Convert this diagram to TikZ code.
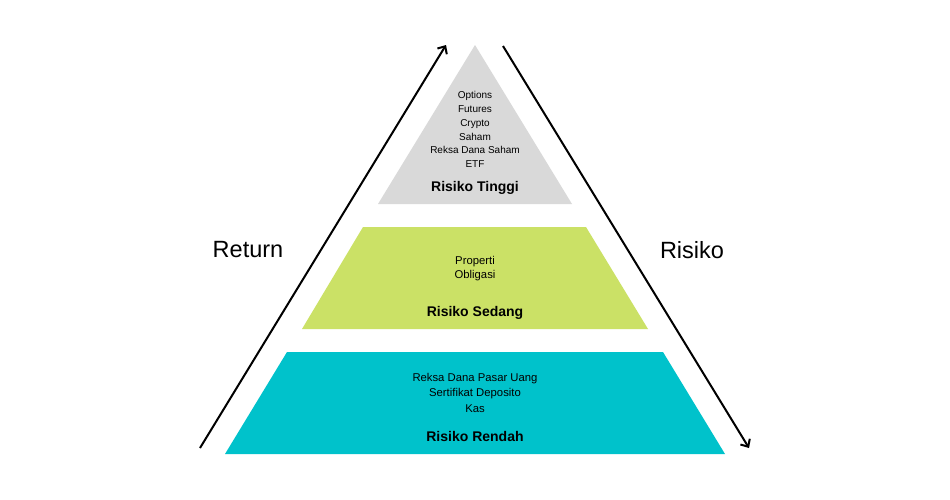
\documentclass[tikz,border=0pt]{standalone}
\usepackage{fontspec}
\setmainfont{Liberation Sans}
\usetikzlibrary{arrows.meta}
\definecolor{tgrey}{HTML}{D9D9D9}
\definecolor{tgreen}{HTML}{CBE166}
\definecolor{tteal}{HTML}{00C2CB}
\tikzset{
  layer/.style={draw=none},
  items/.style={align=center, inner sep=0pt},
  title/.style={inner sep=0pt, font=\bfseries\fontsize{14}{16}\selectfont},
  axis/.style={line width=2pt, -{Straight Barb[length=6pt,width=11pt]}},
  side/.style={inner sep=0pt, font=\fontsize{23.5}{26}\selectfont}
}
\begin{document}
\begin{tikzpicture}[x=1pt,y=-1pt]
\useasboundingbox (0,0) rectangle (950,499);
\fill[white] (0,0) rectangle (950,499);
% layers
\fill[tgrey] (475,45) -- (572,204) -- (378,204) -- cycle;
\fill[tgreen] (363,227) -- (586,227) -- (648,329) -- (302,329) -- cycle;
\fill[tteal] (287,352) -- (663,352) -- (725,454) -- (225,454) -- cycle;
% arrows
\coordinate (rb) at (200,448);
\coordinate (rt) at (446,45);
\coordinate (kt) at (503,46);
\coordinate (kb) at (749,448);
\draw[axis] (rb) -- (rt);
\draw[axis] (kt) -- (kb);
% texts
\node[items, font=\fontsize{10}{13.8}\selectfont] (top) at (475,129.5) {Options\\Futures\\Crypto\\Saham\\Reksa Dana Saham\\ETF};
\node[title] (tinggi) at (475,188) {Risiko Tinggi};
\node[items, font=\fontsize{11.3}{14}\selectfont] (mid) at (475,268.5) {Properti\\Obligasi};
\node[title] (sedang) at (475,312.5) {Risiko Sedang};
\node[items, font=\fontsize{11.3}{15.5}\selectfont] (bot) at (475,392.5) {Reksa Dana Pasar Uang\\Sertifikat Deposito\\Kas};
\node[title] (rendah) at (475,436) {Risiko Rendah};
\node[side] (ret) at (248,250) {Return};
\node[side] (ris) at (692,250) {Risiko};
\end{tikzpicture}
\end{document}
